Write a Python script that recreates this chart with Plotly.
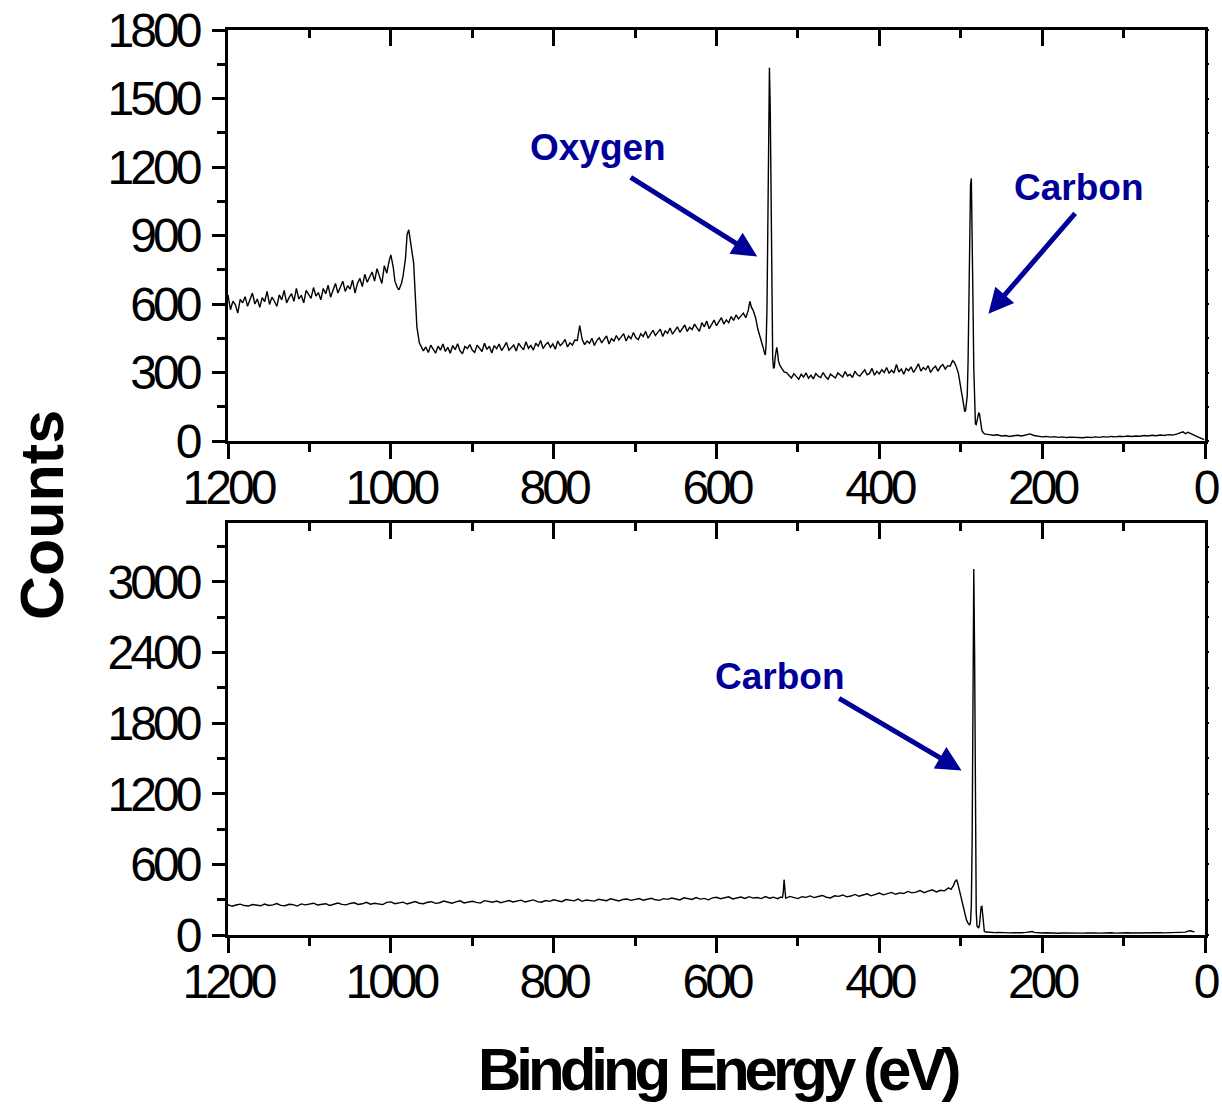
import plotly.graph_objects as go

# ---------------- data ----------------
# Top spectrum, split into segments (energy in eV, counts)
top_e_a = [
    1200, 1197, 1194, 1191, 1188, 1185, 1182, 1179, 1176, 1173,
    1170, 1167, 1164, 1161, 1158, 1155, 1152, 1149, 1146, 1143,
    1140, 1137, 1134, 1131, 1128, 1125, 1122, 1119, 1116, 1113,
    1110, 1107, 1104, 1101, 1098, 1095, 1092, 1089, 1086, 1083,
    1080, 1077, 1074, 1071, 1068, 1065, 1062, 1059, 1056, 1053,
    1050, 1047, 1044, 1041, 1038, 1035, 1032, 1029, 1026, 1023,
    1020, 1017, 1014, 1011, 1008, 1005, 1002,
]
top_c_a = [
    640, 575, 612, 598, 560, 620, 605, 632, 590, 615,
    648, 600, 622, 585, 628, 610, 655, 598, 630, 612,
    590, 640, 618, 660, 605, 628, 645, 612, 668, 622,
    638, 605, 660, 642, 625, 672, 635, 650, 618, 668,
    645, 682, 630, 660, 690, 648, 672, 700, 655, 680,
    665, 705, 648, 690, 712, 676, 730, 695, 718, 740,
    700, 755, 722, 690, 768, 735, 790,
]
top_e_edge = [1000, 997, 995, 992, 990, 987, 985, 982, 980, 978, 975, 972, 970, 968, 965, 962]
top_c_edge = [815, 760, 700, 672, 662, 690, 722, 800, 905, 925, 862, 780, 640, 500, 430, 405]

top_e_b = [
    960, 957, 954, 951, 948, 945, 942, 939, 936, 933,
    930, 927, 924, 921, 918, 915, 912, 909, 906, 903,
    900, 897, 894, 891, 888, 885, 882, 879, 876, 873,
    870, 867, 864, 861, 858, 855, 852, 849, 846, 843,
    840, 837, 834, 831, 828, 825, 822, 819, 816, 813,
    810, 807, 804, 801, 798, 795, 792, 789, 786, 783,
    780, 777, 774, 771, 768, 765, 762, 759, 756, 753,
    750, 747, 744, 741, 738, 735, 732, 729, 726, 723,
    720, 717, 714, 711, 708, 705, 702, 699, 696, 693,
    690, 687, 684, 681, 678, 675, 672, 669, 666, 663,
    660, 657, 654, 651, 648, 645, 642, 639, 636, 633,
    630, 627, 624, 621, 618, 615, 612, 609, 606, 603,
    600, 597, 594, 591, 588, 585, 582, 579, 576, 573,
    570, 567, 564, 561,
]
top_c_b = [
    395, 412, 388, 420, 402, 385, 415, 398, 425, 392,
    410, 384, 418, 400, 426, 395, 382, 414, 405, 422,
    398, 388, 420, 406, 392, 428, 401, 415, 385, 418,
    404, 425, 396, 412, 432, 398, 410, 420, 394, 428,
    412, 400, 435, 406, 418, 398, 428, 415, 440, 405,
    422, 432, 410, 425, 402, 438, 418, 428, 445, 412,
    430, 420, 442, 440, 505, 445, 422, 438, 428, 450,
    418, 440, 452, 430, 446, 460, 425, 448, 438, 462,
    442, 455, 470, 438, 460, 448, 475, 452, 444, 470,
    458, 480, 450, 468, 485, 462, 475, 490, 458, 482,
    472, 495, 468, 485, 500, 476, 492, 508, 480, 498,
    488, 512, 495, 480, 518, 500, 525, 492, 510, 530,
    505, 522, 540, 512, 530, 518, 545, 528, 552, 535,
    548, 560, 540, 572,
]
top_e_oxygen = [559, 557, 555, 552, 549, 546, 543, 541, 540, 539, 538, 537, 536, 535,
                534, 533, 532, 531, 530, 529, 528, 527, 526, 525, 524, 522, 520, 517]
top_c_oxygen = [612, 585, 572, 540, 487, 455, 413, 385, 377, 430, 580, 920, 1380, 1635,
                1460, 960, 560, 365, 318, 322, 365, 398, 410, 388, 352, 330, 318, 303]

top_e_c = [
    514, 511, 508, 505, 502, 499, 496, 493, 490, 487,
    484, 481, 478, 475, 472, 469, 466, 463, 460, 457,
    454, 451, 448, 445, 442, 439, 436, 433, 430, 427,
    424, 421, 418, 415, 412, 409, 406, 403, 400, 397,
    394, 391, 388, 385, 382, 379, 376, 373, 370, 367,
    364, 361, 358, 355, 352, 349, 346, 343, 340, 337,
    334, 331, 328, 325, 322, 319, 316,
]
top_c_c = [
    300, 288, 276, 295, 282, 270, 292, 280, 298, 275,
    288, 272, 296, 284, 278, 300, 281, 270, 293, 286,
    276, 298, 288, 280, 304, 285, 292, 278, 306, 290,
    284, 300, 312, 290, 296, 318, 288, 305, 294, 312,
    300, 322, 296, 310, 298, 335, 302, 315, 292, 318,
    308, 325, 300, 318, 338, 306, 322, 312, 330, 300,
    318, 328, 306, 325, 335, 315, 330,
]
top_e_carbon = [313, 310, 308, 306, 303, 301, 299, 297, 295, 294, 292, 291, 290, 289, 288,
                287, 286, 285, 284, 283, 282, 281, 280, 279, 278, 277, 276, 275, 274, 272]
top_c_carbon = [328, 352, 345, 330, 298, 250, 210, 160, 128, 135, 200, 350, 600, 900, 1120,
                1150, 950, 620, 320, 130, 75, 72, 85, 105, 122, 120, 95, 60, 45, 35]

top_e_tail = [
    270, 265, 260, 255, 250, 245, 240, 235, 230, 225,
    220, 215, 210, 205, 200, 195, 190, 185, 180, 175,
    170, 165, 160, 155, 150, 145, 140, 135, 130, 125,
    120, 115, 110, 105, 100, 95, 90, 85, 80, 75,
    70, 65, 60, 55, 50, 45, 40, 35, 30, 27,
    24, 21, 18, 15, 12, 9, 6, 3, 1,
]
top_c_tail = [
    30, 28, 25, 27, 22, 24, 20, 23, 25, 22,
    28, 31, 24, 20, 18, 20, 17, 19, 16, 18,
    15, 17, 15, 16, 14, 17, 15, 18, 16, 19,
    17, 20, 18, 21, 19, 22, 20, 22, 21, 24,
    22, 25, 23, 26, 24, 28, 26, 30, 37, 40,
    32, 38, 33, 27, 22, 18, 14, 10, 6,
]

top_energy = top_e_a + top_e_edge + top_e_b + top_e_oxygen + top_e_c + top_e_carbon + top_e_tail
top_counts = top_c_a + top_c_edge + top_c_b + top_c_oxygen + top_c_c + top_c_carbon + top_c_tail

# Bottom spectrum
bottom_energy = [
    1200, 1195, 1190, 1185, 1180, 1175, 1170, 1165, 1160, 1155,
    1150, 1145, 1140, 1135, 1130, 1125, 1120, 1115, 1110, 1105,
    1100, 1095, 1090, 1085, 1080, 1075, 1070, 1065, 1060, 1055,
    1050, 1045, 1040, 1035, 1030, 1025, 1020, 1015, 1010, 1005,
    1000, 995, 990, 985, 980, 975, 970, 965, 960, 955,
    950, 945, 940, 935, 930, 925, 920, 915, 910, 905,
    900, 895, 890, 885, 880, 875, 870, 865, 860, 855,
    850, 845, 840, 835, 830, 825, 820, 815, 810, 805,
    800, 795, 790, 785, 780, 775, 770, 765, 760, 755,
    750, 745, 740, 735, 730, 725, 720, 715, 710, 705,
    700, 695, 690, 685, 680, 675, 670, 665, 660, 655,
    650, 645, 640, 635, 630, 625, 620, 615, 610, 605,
    600, 595, 590, 585, 580, 575, 570, 565, 560, 555,
    550, 545, 540, 535, 530, 525, 521, 519, 518, 517,
    516, 515, 510, 505, 500, 495, 490, 485, 480, 475,
    470, 465, 460, 455, 450, 445, 440, 435, 430, 425,
    420, 415, 410, 405, 400, 395, 390, 385, 380, 375,
    370, 365, 360, 355, 350, 345, 340, 335, 330, 325,
    320, 315, 312, 309, 307, 305, 303, 301, 299, 297,
    295, 293, 291, 290, 289, 288, 287, 286, 285, 284,
    283, 282, 281, 280, 279, 278, 277, 276, 275, 274,
    273, 272, 271, 269, 266, 262, 258, 254, 250, 245,
    240, 235, 230, 225, 220, 215, 212, 210, 205, 200,
    195, 190, 185, 180, 175, 170, 165, 160, 155, 150,
    145, 140, 135, 130, 125, 120, 115, 110, 105, 100,
    95, 90, 85, 80, 75, 70, 65, 60, 55, 50,
    45, 40, 35, 30, 27, 24, 21, 18, 15, 13,
]
bottom_counts = [
    258, 244, 255, 262, 250, 246, 259, 253, 248, 263,
    251, 256, 267, 252, 249, 261, 258, 246, 264, 256,
    262, 270, 255, 259, 266, 251, 263, 272, 260, 256,
    268, 274, 259, 265, 278, 262, 270, 266, 258, 277,
    281, 266, 272, 279, 263, 271, 284, 270, 266, 278,
    283, 269, 274, 288, 276, 270, 281, 290, 272, 279,
    286, 277, 271, 292, 283, 279, 288, 274, 284, 293,
    281, 290, 296, 280, 287, 298, 284, 279, 293, 286,
    299, 288, 283, 301, 294, 290, 305, 286, 297, 292,
    288, 303, 296, 291, 308, 297, 289, 302, 306, 294,
    301, 310, 296, 305, 312, 299, 294, 309, 303, 314,
    306, 298, 316, 309, 302, 318, 305, 311, 299, 315,
    320, 308, 313, 324, 306, 317, 322, 310, 326, 314,
    318, 309, 326, 312, 321, 308, 322, 318, 360, 470,
    345, 312, 328, 316, 309, 325, 320, 332, 318, 327,
    336, 321, 315, 333, 328, 340, 324, 331, 345, 329,
    338, 350, 333, 344, 356, 341, 349, 362, 346, 358,
    352, 370, 358, 364, 378, 360, 372, 384, 366, 380,
    375, 400, 388, 420, 455, 470, 420, 360, 298, 220,
    160, 128, 100, 90, 85, 110, 250, 800, 2200, 3110,
    2400, 900, 200, 75, 62, 60, 85, 160, 238, 242,
    150, 60, 30, 25, 22, 24, 20, 22, 19, 21,
    18, 20, 17, 19, 22, 28, 30, 22, 18, 17,
    19, 16, 18, 15, 17, 16, 18, 15, 17, 16,
    18, 15, 17, 16, 18, 17, 19, 16, 18, 17,
    19, 17, 18, 16, 19, 18, 20, 17, 19, 18,
    20, 18, 21, 22, 26, 24, 33, 36, 30, 28,
]

x_tick_vals = [1200, 1000, 800, 600, 400, 200, 0]
x_tick_text = ["1200", "1000", "800", "600", "400", "200", "0"]
top_y_tick_vals = [0, 300, 600, 900, 1200, 1500, 1800]
top_y_tick_text = ["0", "300", "600", "900", "1200", "1500", "1800"]
bottom_y_tick_vals = [0, 600, 1200, 1800, 2400, 3000]
bottom_y_tick_text = ["0", "600", "1200", "1800", "2400", "3000"]

x_title = "Binding Energy (eV)"
y_title = "Counts"

# ---------------- styling ----------------
FONT = "Liberation Sans, Arial, Helvetica, sans-serif"
BLUE = "#000099"
TICK_LS = "-4px"


def tight(labels, ls=TICK_LS):
    return ['<span style="letter-spacing:%s">%s</span>' % (ls, t) for t in labels]


W, H = 1222, 1108
x_dom = [228 / W, 1205 / W]
top_dom = [(H - 441) / H, (H - 30) / H]
bot_dom = [(H - 935) / H, (H - 523) / H]

fig = go.Figure()
fig.add_trace(go.Scatter(x=top_energy, y=top_counts, mode="lines",
                         line=dict(color="black", width=1.4),
                         xaxis="x", yaxis="y", showlegend=False, hoverinfo="skip"))
fig.add_trace(go.Scatter(x=bottom_energy, y=bottom_counts, mode="lines",
                         line=dict(color="black", width=1.4),
                         xaxis="x2", yaxis="y2", showlegend=False, hoverinfo="skip"))
# empty traces so the frame-tick overlay axes are drawn (no marks)
for xa, ya in [("x3", "y"), ("x4", "y2"), ("x", "y3"), ("x2", "y4")]:
    fig.add_trace(go.Scatter(x=[], y=[], xaxis=xa, yaxis=ya, mode="lines",
                             showlegend=False, hoverinfo="skip"))

tickfont = dict(family=FONT, size=48, color="black")


def main_x(anchor):
    return dict(domain=x_dom, anchor=anchor, range=[1200, 0], autorange=False,
                automargin=False, ticklabelstandoff=-13,
                tickmode="array", tickvals=x_tick_vals, ticktext=tight(x_tick_text),
                ticks="outside", ticklen=15, tickwidth=3, tickcolor="black",
                showline=True, linewidth=3, linecolor="black", mirror=True,
                showgrid=False, zeroline=False, tickfont=tickfont,
                minor=dict(tickmode="linear", tick0=0, dtick=100, ticks="outside",
                           ticklen=8, tickwidth=3, tickcolor="black", showgrid=False))


def main_y(anchor, dom, rng, vals, text, minor_dtick):
    return dict(domain=dom, anchor=anchor, range=rng, autorange=False,
                automargin=False, ticklabelstandoff=4,
                tickmode="array", tickvals=vals, ticktext=tight(text),
                ticks="outside", ticklen=13, tickwidth=3, tickcolor="black",
                showline=True, linewidth=3, linecolor="black", mirror=True,
                showgrid=False, zeroline=False, tickfont=tickfont,
                minor=dict(tickmode="linear", tick0=0, dtick=minor_dtick, ticks="outside",
                           ticklen=8, tickwidth=3, tickcolor="black", showgrid=False))


def top_inside_x(over, anchor):
    return dict(overlaying=over, anchor=anchor, side="top", range=[1200, 0], autorange=False,
                automargin=False,
                tickmode="linear", tick0=0, dtick=200, ticks="inside", ticklen=16,
                tickwidth=3, tickcolor="black", showticklabels=False, showline=False,
                showgrid=False, zeroline=False,
                minor=dict(tickmode="linear", tick0=0, dtick=100, ticks="inside",
                           ticklen=8, tickwidth=3, tickcolor="black", showgrid=False))


def right_y(over, anchor, rng, dtick):
    return dict(overlaying=over, anchor=anchor, side="right", range=rng, autorange=False,
                automargin=False,
                tickmode="linear", tick0=0, dtick=dtick, ticks="outside", ticklen=3,
                tickwidth=2, tickcolor="black", showticklabels=False, showline=False,
                showgrid=False, zeroline=False)


fig.update_layout(
    width=W, height=H,
    margin=dict(l=0, r=0, t=0, b=0),
    paper_bgcolor="white", plot_bgcolor="white",
    showlegend=False,
    xaxis=main_x("y"),
    yaxis=main_y("x", top_dom, [0, 1800], top_y_tick_vals, top_y_tick_text, 150),
    xaxis2=main_x("y2"),
    yaxis2=main_y("x2", bot_dom, [0, 3500], bottom_y_tick_vals, bottom_y_tick_text, 300),
    xaxis3=top_inside_x("x", "y"),
    xaxis4=top_inside_x("x2", "y2"),
    yaxis3=right_y("y", "x", [0, 1800], 150),
    yaxis4=right_y("y2", "x2", [0, 3500], 300),
)

label_font = dict(family=FONT, size=37, color=BLUE, weight="bold")
arrow_common = dict(showarrow=True, arrowhead=2, arrowsize=1.0, arrowwidth=5,
                    arrowcolor=BLUE, text="", axref="pixel", ayref="pixel")

annotations = [
    # labels
    dict(x=745, y=1286, xref="x", yref="y", text="Oxygen", showarrow=False,
         font=label_font, xanchor="center", yanchor="middle"),
    dict(x=155, y=1111, xref="x", yref="y", text="Carbon", showarrow=False,
         font=label_font, xanchor="center", yanchor="middle"),
    dict(x=522, y=2199, xref="x2", yref="y2", text="Carbon", showarrow=False,
         font=label_font, xanchor="center", yanchor="middle"),
    # arrows
    dict(x=550, y=808, xref="x", yref="y", ax=-128, ay=-80, **arrow_common),
    dict(x=266, y=557, xref="x", yref="y", ax=88, ay=-102, **arrow_common),
    dict(x=299, y=1398, xref="x2", yref="y2", ax=-124, ay=-73, **arrow_common),
    # axis titles
    dict(x=42 / W, y=(H - 515) / H, xref="paper", yref="paper", text=y_title,
         textangle=-90, showarrow=False, xanchor="center", yanchor="middle",
         font=dict(family=FONT, size=61, color="black", weight="bold")),
    dict(x=718 / W, y=(H - 1069) / H, xref="paper", yref="paper",
         text='<span style="letter-spacing:-5px">%s</span>' % x_title,
         showarrow=False, xanchor="center", yanchor="middle",
         font=dict(family=FONT, size=60, color="black", weight="bold")),
]
fig.update_layout(annotations=annotations)

fig.write_html("out.html", config={"displayModeBar": False},
               post_script="document.body.style.margin='0';document.body.style.overflow='hidden';")
